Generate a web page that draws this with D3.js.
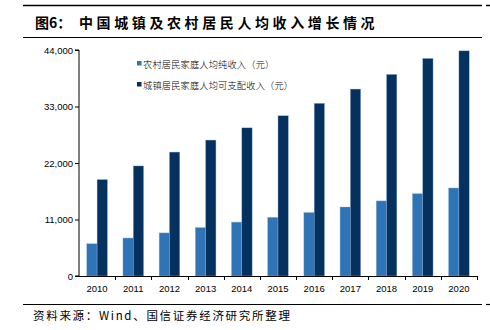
<!DOCTYPE html>
<html><head><meta charset="utf-8">
<script src="https://cdn.jsdelivr.net/npm/d3@7"></script>
<style>
body{margin:0;background:#fff;}
svg{display:block;}
</style></head>
<body>
<svg id="c" width="490" height="330"></svg>
<script>
const years = ["2010","2011","2012","2013","2014","2015","2016","2017","2018","2019","2020"];
const rural = [6272,7394,8389,9430,10489,11422,12363,13432,14617,16021,17131];
const urban = [18779,21427,24127,26467,28844,31195,33616,36396,39251,42359,43834];
const seriesNames = ["农村居民家庭人均纯收入（元）","城镇居民家庭人均可支配收入（元）"];
const yTicks = [0,11000,22000,33000,44000];
const titleLabel = "图6：";
const title = "中国城镇及农村居民人均收入增长情况";
const source = "资料来源：Wind、国信证券经济研究所整理";

const colors = ["#2F74B6","#05315F"];
const svg = d3.select("#c");
const m = {l:79, r:477, t:50, b:276};

// header lines and title
svg.append("line").attr("x1",23).attr("x2",482).attr("y1",5.5).attr("y2",5.5).attr("stroke","#000").attr("stroke-width",1.5);
svg.append("line").attr("x1",486).attr("x2",490).attr("y1",5.5).attr("y2",5.5).attr("stroke","#000").attr("stroke-width",1.5);
svg.append("text").attr("x",35).attr("y",28).text(titleLabel)
  .attr("font-family","'Noto Sans CJK SC'").attr("font-weight","bold").attr("font-size",14).attr("fill","#000");
svg.append("text").attr("x",79).attr("y",28).text(title)
  .attr("font-family","'Noto Sans CJK SC'").attr("font-weight","bold").attr("font-size",14).attr("letter-spacing",3.6).attr("fill","#000");
svg.append("line").attr("x1",23).attr("x2",482).attr("y1",37.5).attr("y2",37.5).attr("stroke","#000").attr("stroke-width",1.2);
svg.append("line").attr("x1",23).attr("x2",482).attr("y1",304.5).attr("y2",304.5).attr("stroke","#000").attr("stroke-width",1.2);
svg.append("line").attr("x1",486).attr("x2",490).attr("y1",304.5).attr("y2",304.5).attr("stroke","#000").attr("stroke-width",1.2);
svg.append("text").attr("x",33).attr("y",320).text(source)
  .attr("font-family","'Noto Sans CJK SC'").attr("font-size",11.5).attr("letter-spacing",1.7).attr("fill","#000");

const x = d3.scaleBand().domain(years).range([m.l,m.r]).paddingInner(0.43).paddingOuter(0.215);
const xb = d3.scaleBand().domain(years).range([m.l,m.r]);
const x1 = d3.scaleBand().domain([0,1]).range([0,x.bandwidth()]);
const y = d3.scaleLinear().domain([0,44000]).range([m.b,m.t]);

const g = svg.append("g");
[rural,urban].forEach((vals,si)=>{
  g.selectAll(null).data(vals).enter().append("rect")
    .attr("x",(d,i)=>x(years[i])+x1(si))
    .attr("width",x1.bandwidth())
    .attr("y",d=>y(d))
    .attr("height",d=>y(0)-y(d))
    .attr("fill",colors[si])
    .attr("stroke","#8fb0d6").attr("stroke-width",0.4);
});

// y axis
const yAxis = d3.axisLeft(y).tickValues(yTicks).tickSize(4).tickFormat(d3.format(","));
const ya = svg.append("g").attr("transform",`translate(${m.l},0)`).call(yAxis);
ya.select(".domain").attr("stroke","#000").attr("d",`M-4,${m.t}H0V${m.b}H-4`);
ya.selectAll("text").attr("font-family","'Liberation Sans',Arial").attr("font-size",9.5).attr("fill","#000").attr("x",-6);
ya.selectAll("line").attr("stroke","#000");

// x axis
const xa = svg.append("g");
xa.append("line").attr("x1",m.l-4).attr("x2",m.r).attr("y1",m.b+0.5).attr("y2",m.b+0.5).attr("stroke","#000");
const bounds = years.map(d=>xb(d)).concat([xb.range()[1]]);
xa.selectAll(null).data(bounds.slice(1)).enter().append("line")
  .attr("x1",d=>Math.round(d)+0.5).attr("x2",d=>Math.round(d)+0.5).attr("y1",m.b).attr("y2",m.b+4).attr("stroke","#000");
xa.selectAll(null).data(years).enter().append("text")
  .attr("x",d=>xb(d)+xb.bandwidth()/2).attr("y",m.b+16).attr("text-anchor","middle")
  .attr("font-family","'Liberation Sans',Arial").attr("font-size",9.5).attr("fill","#000").text(d=>d);

// legend
const lg = svg.append("g");
seriesNames.forEach((n,i)=>{
  const ly = 64 + i*21;
  lg.append("rect").attr("x",137).attr("y",ly-3).attr("width",4.5).attr("height",4.5).attr("fill",colors[i]);
  lg.append("text").attr("x",143).attr("y",ly+3.5).text(n)
    .attr("font-family","'Noto Sans CJK SC'").attr("font-size",9.2).attr("letter-spacing",0.2).attr("font-weight",300).attr("fill","#000");
});
</script>
</body></html>
